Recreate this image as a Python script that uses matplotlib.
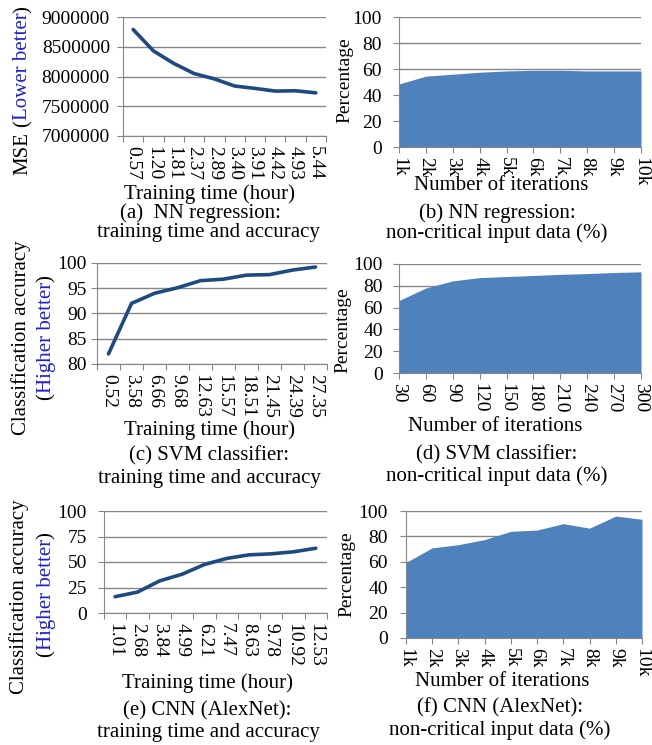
import numpy as np
import matplotlib
matplotlib.use('Agg')
from matplotlib import pyplot as plt

plt.rcParams['font.family'] = ['Liberation Serif', 'DejaVu Serif']
plt.rcParams['font.size'] = 15
plt.rcParams['xtick.labelsize'] = 14
plt.rcParams['ytick.labelsize'] = 14

# %% data
nn_time = ['0.57', '1.20', '1.81', '2.37', '2.89', '3.40', '3.91', '4.42', '4.93', '5.44']
nn_mse = [8790000, 8430000, 8220000, 8050000, 7960000, 7840000, 7800000, 7755000, 7760000, 7725000]

iters_k = ['1k', '2k', '3k', '4k', '5k', '6k', '7k', '8k', '9k', '10k']
nn_pct = [48.5, 54.5, 56, 57.5, 58.5, 59, 59, 58.5, 58.5, 58.5]

svm_time = ['0.52', '3.58', '6.66', '9.68', '12.63', '15.57', '18.51', '21.45', '24.39', '27.35']
svm_acc = [82, 92, 94, 95.1, 96.5, 96.8, 97.6, 97.7, 98.6, 99.2]

svm_iters = ['30', '60', '90', '120', '150', '180', '210', '240', '270', '300']
svm_pct = [66.5, 78, 84.5, 87.5, 88.5, 89.5, 90.5, 91.2, 92.2, 92.8]

cnn_time = ['1.01', '2.68', '3.84', '4.99', '6.21', '7.47', '8.63', '9.78', '10.92', '12.53']
cnn_acc = [16, 20.5, 31.5, 38, 47.5, 53.5, 57, 58, 60, 63.5]

cnn_pct = [59.5, 71, 73.5, 77.5, 84, 85, 90, 86.5, 96, 93.5]

# %% layout helpers
W, H = 652, 745
fig = plt.figure(figsize=(W / 100, H / 100), dpi=100)

GRID = '#868686'
LINE = '#1f4a80'
AREA = '#4f81bd'
BLUE = '#2020cc'


def px_axes(l, t, r, b):
    return fig.add_axes([l / W, 1 - b / H, (r - l) / W, (b - t) / H])


def style(ax, ypad):
    for s in ['top', 'right']:
        ax.spines[s].set_visible(False)
    for s in ['left', 'bottom']:
        ax.spines[s].set_color(GRID)
    ax.set_axisbelow(True)
    ax.yaxis.grid(True, color=GRID, linewidth=1)
    ax.tick_params(axis='y', length=4, color=GRID, pad=ypad)
    ax.tick_params(axis='x', which='major', color=GRID, length=4, direction='out')


def line_panel(ax, labels, values, ylim, yticks, ypad):
    x = np.arange(len(values))
    ax.plot(x, values, color=LINE, linewidth=2.6, solid_capstyle='round')
    ax.set_xlim(-0.5, len(values) - 0.5)
    ax.set_ylim(*ylim)
    ax.set_yticks(yticks)
    ax.set_yticklabels([str(v) for v in yticks])
    ax.set_xticks(np.arange(-0.5, len(values), 1))
    ax.set_xticklabels([])
    ax.set_xticks(x, minor=True)
    ax.set_xticklabels(labels, minor=True, rotation=-90)
    ax.tick_params(axis='x', which='minor', length=0, pad=7)
    style(ax, ypad)


def area_panel(ax, labels, values, ypad):
    x = np.arange(len(values))
    ax.fill_between(x, values, color=AREA, linewidth=0, zorder=2)
    ax.set_xlim(0, len(values) - 1)
    ax.set_ylim(0, 100)
    ax.set_yticks(range(0, 101, 20))
    ax.set_xticks(x)
    ax.set_xticklabels(labels, rotation=-90)
    ax.tick_params(axis='x', pad=3)
    style(ax, ypad)


def chain(x, y_bottom, pieces):
    # rotated label built bottom to top from coloured pieces
    first, col = pieces[0][0], pieces[0][1]
    prev = fig.text(x / W, 1 - y_bottom / H, first, color=col,
                    rotation=90, ha='center', va='bottom')
    for txt, col, gap in pieces[1:]:
        prev = fig.axes[0].annotate(txt, xy=(0.5, 1), xycoords=prev,
                                    xytext=(0, gap), textcoords='offset points',
                                    color=col, rotation=90, ha='center', va='bottom',
                                    annotation_clip=False)


def ftext(x, y, s, **kw):
    fig.text(x / W, 1 - y / H, s, ha='center', va='center', **kw)


# %% panels
ax_a = px_axes(123, 17, 326, 136)
line_panel(ax_a, nn_time, nn_mse, (7000000, 9000000),
           range(7000000, 9000001, 500000), 5.4)

ax_b = px_axes(399, 17, 641, 147)
area_panel(ax_b, iters_k, nn_pct, 8.2)

ax_c = px_axes(97, 263, 327, 364)
line_panel(ax_c, svm_time, svm_acc, (80, 100), range(80, 101, 5), 3.2)

ax_d = px_axes(399, 264, 641, 373)
area_panel(ax_d, svm_iters, svm_pct, 7.5)

ax_e = px_axes(104, 511, 327, 613)
line_panel(ax_e, cnn_time, cnn_acc, (0, 100), range(0, 101, 25), 8.2)

ax_f = px_axes(406, 511, 642, 638)
area_panel(ax_f, iters_k, cnn_pct, 9)

# %% y labels
chain(23, 175, [('MSE', 'black', 0), ('(', 'black', 3.5),
                ('Lower better', BLUE, 0), (')', 'black', 0)])
ftext(345, 80, 'Percentage', rotation=90, fontsize=14)

ftext(21, 338, 'Classification accuracy', rotation=90)
chain(46, 400, [('(', 'black', 0), ('Higher better', BLUE, 0), (')', 'black', 0)])
ftext(343, 330, 'Percentage', rotation=90, fontsize=14)

ftext(19, 597, 'Classification accuracy', rotation=90)
chain(46, 657, [('(', 'black', 0), ('Higher better', BLUE, 0), (')', 'black', 0)])
ftext(347, 574, 'Percentage', rotation=90, fontsize=14)

# %% axis titles and captions
ftext(210, 194, 'Training time (hour)')
ftext(200, 213, '(a)  NN regression:')
ftext(208, 233, 'training time and accuracy')

ftext(501, 186, 'Number of iterations')
ftext(497, 213, '(b) NN regression:')
ftext(497, 233, 'non-critical input data (%)')

ftext(209, 430, 'Training time (hour)')
ftext(209, 456, '(c) SVM classifier:')
ftext(209, 478, 'training time and accuracy')

ftext(495, 426, 'Number of iterations')
ftext(497, 455, '(d) SVM classifier:')
ftext(497, 476, 'non-critical input data (%)')

ftext(208, 683, 'Training time (hour)')
ftext(207, 711, '(e) CNN (AlexNet):')
ftext(208, 733, 'training time and accuracy')

ftext(502, 682, 'Number of iterations')
ftext(500, 708, '(f) CNN (AlexNet):')
ftext(500, 730, 'non-critical input data (%)')

fig.savefig('out.png', dpi=100)
